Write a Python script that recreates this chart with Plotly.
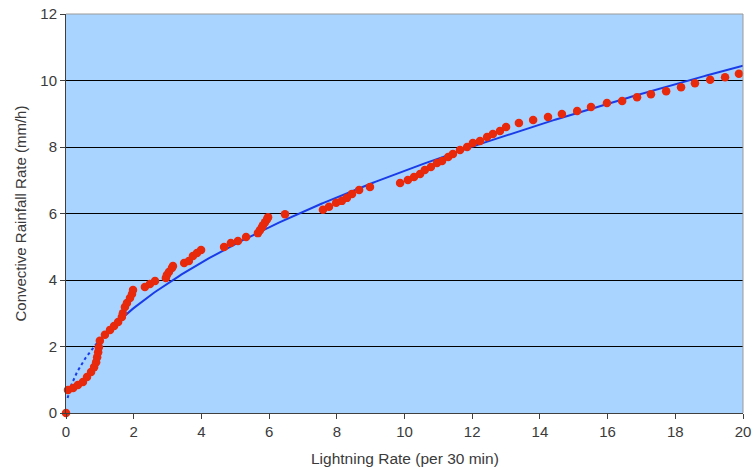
import numpy as np
import plotly.graph_objects as go

# Observed points (lightning rate per 30 min, convective rainfall rate mm/h)
lightning = [0, 0.06, 0.21, 0.35, 0.5, 0.62, 0.74, 0.83, 0.89, 0.92,
             0.95, 0.97, 1.0, 1.15, 1.3, 1.42, 1.54, 1.65, 1.68, 1.74,
             1.8, 1.89, 1.95, 1.98, 2.33, 2.48, 2.63, 2.95, 2.98, 3.04,
             3.13, 3.16, 3.49, 3.63, 3.75, 3.87, 3.99, 4.67, 4.87, 5.08,
             5.32, 5.67, 5.73, 5.79, 5.82, 5.88, 5.94, 5.97, 6.47, 7.59,
             7.77, 7.98, 8.15, 8.3, 8.45, 8.66, 8.98, 9.87, 10.1, 10.28,
             10.46, 10.6, 10.78, 10.96, 11.11, 11.29, 11.43, 11.64, 11.85, 12.02,
             12.23, 12.44, 12.61, 12.82, 13.0, 13.38, 13.8, 14.24, 14.65, 15.1,
             15.51, 15.98, 16.43, 16.87, 17.28, 17.73, 18.17, 18.58, 19.03, 19.47,
             19.88]
rainfall = [0, 0.69, 0.75, 0.84, 0.93, 1.08, 1.23, 1.38, 1.53, 1.68,
            1.83, 1.98, 2.17, 2.35, 2.5, 2.62, 2.74, 2.89, 3.0, 3.19,
            3.31, 3.46, 3.58, 3.7, 3.79, 3.88, 3.97, 4.06, 4.15, 4.24,
            4.36, 4.42, 4.51, 4.57, 4.72, 4.81, 4.9, 4.99, 5.11, 5.17,
            5.29, 5.41, 5.5, 5.59, 5.65, 5.74, 5.83, 5.89, 5.98, 6.11,
            6.2, 6.32, 6.38, 6.47, 6.59, 6.71, 6.8, 6.92, 7.01, 7.1,
            7.19, 7.31, 7.4, 7.52, 7.58, 7.7, 7.79, 7.91, 8.0, 8.12,
            8.18, 8.3, 8.39, 8.48, 8.6, 8.72, 8.81, 8.9, 8.99, 9.08,
            9.2, 9.32, 9.38, 9.5, 9.59, 9.68, 9.8, 9.92, 10.02, 10.1,
            10.2]

# Power trendline y = a * x^b (coefficients)
trend_a = 2.2
trend_b = 0.52
trend_start = 0.047
trend_join = 1.0
trend_end = 20.0

x_tick_vals = [0, 2, 4, 6, 8, 10, 12, 14, 16, 18, 20]
y_tick_vals = [0, 2, 4, 6, 8, 10, 12]
x_title = "Lightning Rate (per 30 min)"
y_title = "Convective Rainfall Rate (mm/h)"

x_dot = np.linspace(trend_start, trend_join, 60)
x_sol = np.linspace(trend_join, trend_end, 300)

fig = go.Figure()
fig.add_trace(go.Scatter(x=x_dot, y=trend_a * x_dot ** trend_b, mode="lines",
                         line=dict(color="#1A3CE8", width=2, dash="dot"),
                         showlegend=False, hoverinfo="skip"))
fig.add_trace(go.Scatter(x=x_sol, y=trend_a * x_sol ** trend_b, mode="lines",
                         line=dict(color="#1A3CE8", width=2),
                         showlegend=False, hoverinfo="skip"))
fig.add_trace(go.Scatter(x=lightning, y=rainfall, mode="markers",
                         marker=dict(color="#E8290B", size=8.5, line=dict(width=0)),
                         showlegend=False, cliponaxis=False))

font_col = "#3A3A3A"
fig.update_layout(
    width=753, height=470,
    margin=dict(l=66, r=10, t=14, b=57),
    paper_bgcolor="white",
    plot_bgcolor="#A8D4FF",
    font=dict(family="Liberation Sans, Arial, sans-serif", size=15, color=font_col),
    xaxis=dict(range=[0, 20], tickvals=x_tick_vals, showgrid=False, zeroline=False,
               showline=True, linecolor="#404040", linewidth=1, automargin=False,
               ticks="outside", ticklen=5, tickcolor="#404040",
               tickfont=dict(size=15, color=font_col)),
    yaxis=dict(range=[0, 12], tickvals=y_tick_vals, showgrid=True, gridcolor="black",
               gridwidth=1, zeroline=False, automargin=False,
               showline=True, linecolor="#404040", linewidth=1,
               ticks="outside", ticklen=5, tickcolor="#404040",
               tickfont=dict(size=15, color=font_col)),
    shapes=[
        dict(type="line", xref="paper", yref="paper", x0=0, x1=1, y0=1, y1=1,
             line=dict(color="#9A9A9A", width=1)),
        dict(type="line", xref="paper", yref="paper", x0=1, x1=1, y0=0, y1=1,
             line=dict(color="#9A9A9A", width=1)),
    ],
    annotations=[
        dict(text=x_title, xref="paper", yref="paper", x=0.5, y=0,
             xanchor="center", yanchor="middle", yshift=-45, showarrow=False,
             font=dict(size=15.5, color=font_col)),
        dict(text=y_title, xref="paper", yref="paper", x=0, y=0.5,
             xanchor="center", yanchor="middle", xshift=-46, textangle=-90,
             showarrow=False, font=dict(size=15, color=font_col)),
    ],
)

fig.write_html("out.html",
               config={"displayModeBar": False},
               post_script="document.body.style.margin='0';document.body.style.overflow='hidden';")
